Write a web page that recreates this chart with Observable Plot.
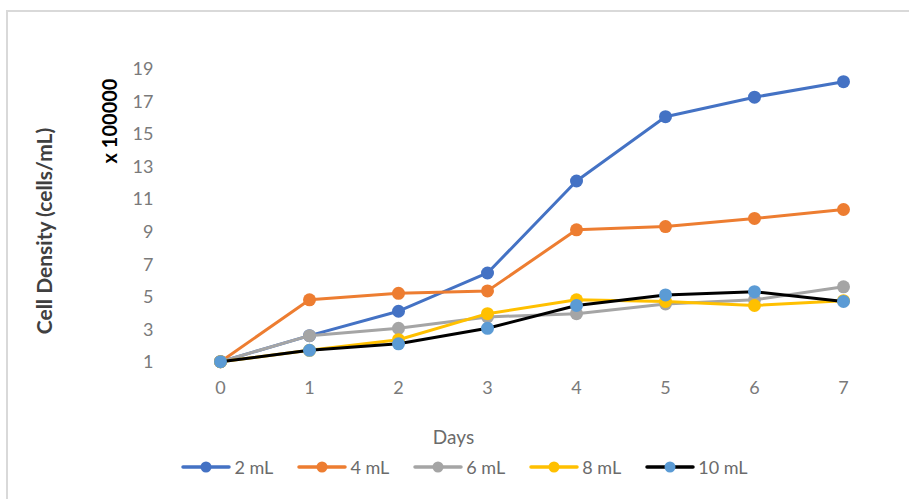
<!DOCTYPE html>
<html>
<head>
<meta charset="utf-8">
<script src="https://cdn.jsdelivr.net/npm/d3@7"></script>
<script src="https://cdn.jsdelivr.net/npm/@observablehq/plot@0.6"></script>
<style>
  html, body { margin: 0; padding: 0; background: #fff; }
  #chart { position: relative; width: 909px; height: 499px; overflow: hidden; font-family: Lato, "Open Sans", sans-serif; }
  #frame { position: absolute; left: 6px; top: 10px; width: 940px; height: 520px;
           border-left: 2px solid #d9d9d9; border-top: 2px solid #d9d9d9; box-sizing: border-box; }
  #plot { position: absolute; left: 0; top: 0; }
  #legend { position: absolute; left: 0; top: 452px; width: 909px; height: 30px;
            display: flex; align-items: center; justify-content: center; gap: 24px;
            font-size: 18px; color: #6b6b6b; padding-left: 20px; box-sizing: border-box; }
  .item { display: flex; align-items: center; gap: 3px; }
</style>
</head>
<body>
<div id="chart">
  <div id="frame"></div>
  <div id="plot"></div>
  <div id="legend"></div>
</div>
<script>
// Days of culture and cell density (x 100000 cells/mL) for each medium volume
const days = [0, 1, 2, 3, 4, 5, 6, 7];
const series = ["2 mL", "4 mL", "6 mL", "8 mL", "10 mL"];
const density2 = [1.05, 2.65, 4.15, 6.5, 12.15, 16.1, 17.3, 18.25];
const density4 = [1.05, 4.85, 5.25, 5.4, 9.15, 9.35, 9.85, 10.4];
const density6 = [1.05, 2.65, 3.1, 3.8, 4.0, 4.6, 4.85, 5.65];
const density8 = [1.05, 1.75, 2.4, 4.0, 4.85, 4.75, 4.5, 4.8];
const density10 = [1.05, 1.75, 2.15, 3.1, 4.5, 5.15, 5.35, 4.75];
const yTicks = [1, 3, 5, 7, 9, 11, 13, 15, 17, 19];

const lineColors = ["#4472c4", "#ed7d31", "#a5a5a5", "#ffc000", "#000000"];
const dotColors = ["#4472c4", "#ed7d31", "#a5a5a5", "#ffc000", "#5b9bd5"];
const values = [density2, density4, density6, density8, density10];

const rows = series.map((s, i) => days.map((d, j) => ({series: s, day: d, value: values[i][j]})));

// Each series draws its line then its markers, so later series sit on top
const seriesMarks = rows.flatMap((data, i) => [
  Plot.line(data, {x: "day", y: "value", stroke: lineColors[i], strokeWidth: 3, strokeLinejoin: "round", strokeLinecap: "round"}),
  Plot.dot(data, {x: "day", y: "value", fill: dotColors[i], r: 6.5})
]);

const chart = Plot.plot({
  width: 909,
  height: 452,
  marginLeft: 172,
  marginRight: 19,
  marginTop: 69,
  marginBottom: 90,
  style: {fontFamily: "Lato, 'Open Sans', sans-serif", background: "transparent"},
  x: {type: "point", domain: days, padding: 0.5},
  y: {domain: [1, 19]},
  marks: [
    Plot.gridY(yTicks, {stroke: "#d9d9d9", strokeOpacity: 1, strokeWidth: 1.5, x1: -0.5, x2: 7.5}),
    Plot.axisY(yTicks, {tickSize: 0, tickPadding: 19, fontSize: 18, fill: "#7a7a7a", label: null}),
    Plot.axisX(days, {tickSize: 0, tickPadding: 19, fontSize: 18, fill: "#7a7a7a", label: null}),
    ...seriesMarks,
    Plot.text(["Cell Density (cells/mL)"], {frameAnchor: "left", textAnchor: "middle", lineAnchor: "middle", text: d => d, rotate: -90, dx: -127, dy: 15, fontSize: 21, fontWeight: "bold", fill: "#404040"}),
    Plot.text(["x 100000"], {frameAnchor: "left", textAnchor: "middle", lineAnchor: "middle", text: d => d, rotate: -90, dx: -62, dy: -95, fontSize: 20, fontWeight: "bold", fill: "#000"}),
    Plot.text(["Days"], {frameAnchor: "bottom", textAnchor: "middle", lineAnchor: "middle", text: d => d, dx: -78, dy: 75, fontSize: 19, fill: "#6b6b6b"})
  ]
});
document.getElementById("plot").appendChild(chart);

// Legend: a line sample with a centered marker, followed by the series name
const legend = document.getElementById("legend");
series.forEach((s, i) => {
  const item = document.createElement("div");
  item.className = "item";
  item.innerHTML = `<svg width="50" height="14"><line x1="2" y1="7" x2="48" y2="7" stroke="${lineColors[i]}" stroke-width="3.5" stroke-linecap="round"/><circle cx="25" cy="7" r="5.5" fill="${dotColors[i]}"/></svg><span>${s}</span>`;
  legend.appendChild(item);
});
</script>
</body>
</html>
